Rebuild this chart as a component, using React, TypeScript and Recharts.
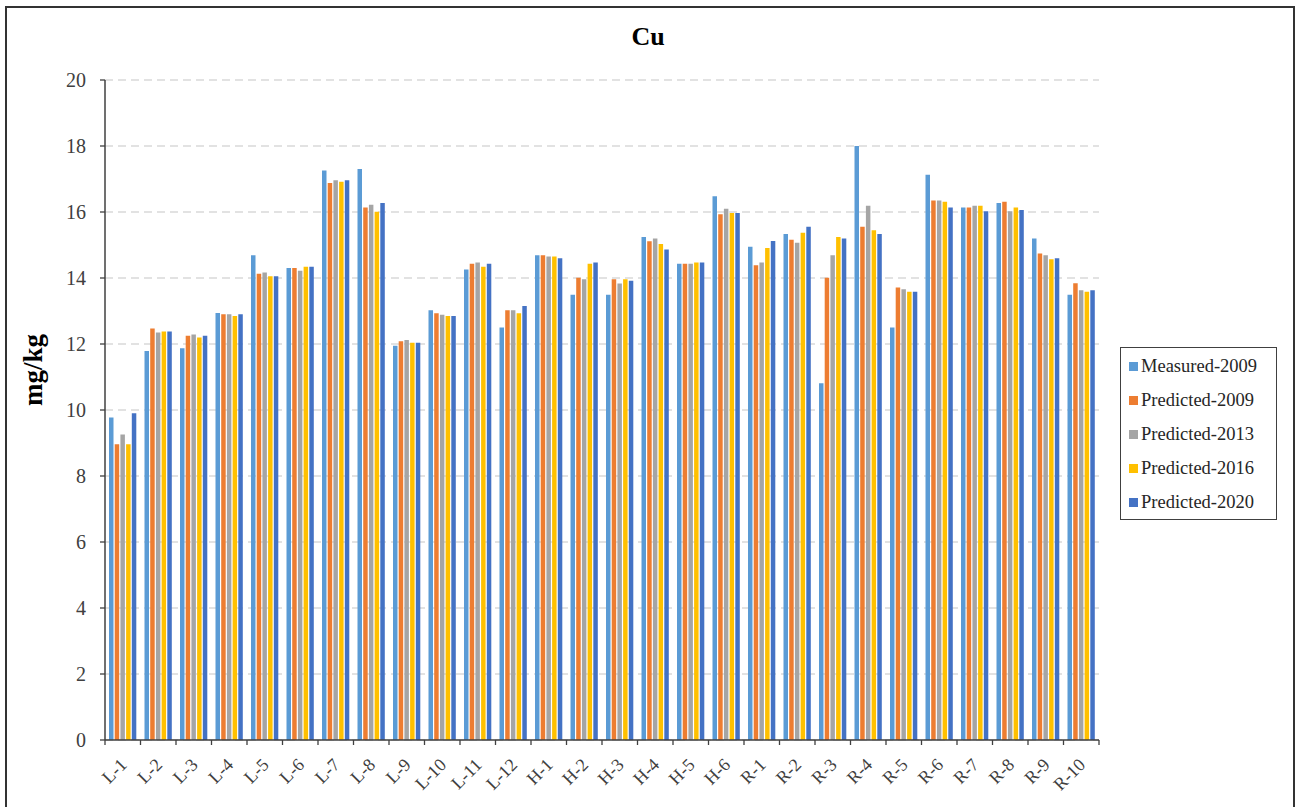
import React from 'react';
import { BarChart, Bar, XAxis, YAxis, CartesianGrid } from 'recharts';

const categories = ['L-1','L-2','L-3','L-4','L-5','L-6','L-7','L-8','L-9','L-10','L-11','L-12','H-1','H-2','H-3','H-4','H-5','H-6','R-1','R-2','R-3','R-4','R-5','R-6','R-7','R-8','R-9','R-10'];
const measured2009 = [9.77,11.79,11.87,12.94,14.69,14.3,17.26,17.3,11.95,13.02,14.26,12.5,14.69,13.49,13.49,15.24,14.43,16.48,14.95,15.33,10.81,18.0,12.5,17.13,16.14,16.27,15.2,13.49];
const predicted2009 = [8.96,12.47,12.25,12.9,14.13,14.3,16.88,16.14,12.08,12.93,14.43,13.02,14.69,14.01,13.96,15.11,14.43,15.93,14.39,15.16,14.01,15.55,13.71,16.35,16.14,16.31,14.74,13.84];
const predicted2013 = [9.26,12.35,12.29,12.9,14.17,14.22,16.96,16.22,12.12,12.89,14.47,13.02,14.65,13.96,13.83,15.2,14.43,16.1,14.47,15.07,14.69,16.19,13.66,16.35,16.19,16.02,14.69,13.63];
const predicted2016 = [8.96,12.38,12.2,12.85,14.05,14.34,16.92,16.01,12.04,12.85,14.34,12.93,14.65,14.43,13.96,15.03,14.47,15.97,14.91,15.37,15.24,15.45,13.58,16.31,16.19,16.14,14.57,13.58];
const predicted2020 = [9.9,12.38,12.25,12.9,14.05,14.34,16.96,16.27,12.04,12.85,14.43,13.15,14.6,14.47,13.92,14.86,14.47,15.97,15.12,15.55,15.2,15.33,13.58,16.14,16.02,16.06,14.6,13.63];
const yTicks = [0,2,4,6,8,10,12,14,16,18,20];

const seriesNames = ['Measured-2009','Predicted-2009','Predicted-2013','Predicted-2016','Predicted-2020'];
const seriesKeys = ['m2009','p2009','p2013','p2016','p2020'];
const seriesColors = ['#5B9BD5','#ED7D31','#A5A5A5','#FFC000','#4472C4'];

const data = categories.map((c, i) => ({
  name: c,
  m2009: measured2009[i],
  p2009: predicted2009[i],
  p2013: predicted2013[i],
  p2016: predicted2016[i],
  p2020: predicted2020[i],
}));

const W = 1296;
const H = 807;
const X_AXIS_H = 67;
const M = { top: 80, right: 197, bottom: 0, left: 0 };
const Y_AXIS_W = 105;
const PLOT_W = W - M.right - Y_AXIS_W - M.left;
const HALF_BAND = PLOT_W / categories.length / 2;
const AXIS_Y = H - M.bottom - X_AXIS_H;
const FONT = '"Liberation Serif", "Times New Roman", serif';

const XTick = (props: any) => {
  const { x, payload, index } = props;
  const isLast = index === categories.length - 1;
  return (
    <g>
      <line x1={x - HALF_BAND} x2={x - HALF_BAND} y1={AXIS_Y} y2={AXIS_Y + 5} stroke="#404040" strokeWidth={1.3} />
      {isLast && (
        <line x1={x + HALF_BAND} x2={x + HALF_BAND} y1={AXIS_Y} y2={AXIS_Y + 5} stroke="#404040" strokeWidth={1.3} />
      )}
      <text
        x={0}
        y={0}
        transform={`translate(${x + 5},${AXIS_Y + 26}) rotate(-45)`}
        textAnchor="end"
        fontFamily={FONT}
        fontSize={18}
        fill="#404040"
      >
        {payload.value}
      </text>
    </g>
  );
};

const LegendBox = () => (
  <div
    style={{
      position: 'absolute',
      left: 1120,
      top: 347,
      border: '1.5px solid #404040',
      width: 157,
      height: 173,
      padding: '1px 0 0 8px',
      boxSizing: 'border-box',
      background: '#fff',
      fontFamily: FONT,
    }}
  >
    {seriesNames.map((n, i) => (
      <div key={n} style={{ display: 'flex', alignItems: 'center', height: 34.2 }}>
        <span style={{ display: 'inline-block', width: 9, height: 9, background: seriesColors[i], marginRight: 3, flexShrink: 0 }} />
        <span style={{ fontSize: 18.5, color: '#262626', whiteSpace: 'nowrap' }}>{n}</span>
      </div>
    ))}
  </div>
);

export default function App() {
  return (
    <div style={{ position: 'absolute', left: 0, top: 0, width: W, height: H, background: '#fff', overflow: 'hidden' }}>
      <BarChart
        width={W}
        height={H}
        data={data}
        margin={M}
        barSize={4.5}
        barGap={1.2}
      >
        <CartesianGrid vertical={false} stroke="#D9D9D9" strokeDasharray="8 5" strokeWidth={1.3} />
        <XAxis
          dataKey="name"
          interval={0}
          height={X_AXIS_H}
          tick={<XTick />}
          tickLine={false}
          axisLine={{ stroke: '#404040', strokeWidth: 1.5 }}
        />
        <YAxis
          width={Y_AXIS_W}
          domain={[0, 20]}
          ticks={yTicks}
          interval={0}
          tickSize={5}
          tickMargin={14}
          tickLine={{ stroke: '#404040', strokeWidth: 1.3 }}
          axisLine={{ stroke: '#404040', strokeWidth: 1.5 }}
          tick={{ fontFamily: FONT, fontSize: 20, fill: '#404040' }}
        />
        {seriesKeys.map((k, i) => (
          <Bar
            key={k}
            dataKey={k}
            name={seriesNames[i]}
            fill={seriesColors[i]}
            isAnimationActive={false}
          />
        ))}
      </BarChart>
      <LegendBox />
      <div
        style={{
          position: 'absolute',
          left: 0,
          width: 1296,
          top: 22,
          textAlign: 'center',
          fontFamily: FONT,
          fontWeight: 'bold',
          fontSize: 26,
          color: '#000',
          paddingRight: 2,
          lineHeight: '30px',
        }}
      >
        Cu
      </div>
      <div
        style={{
          position: 'absolute',
          left: 33,
          top: 370,
          transform: 'translate(-50%, -50%) rotate(-90deg)',
          fontFamily: FONT,
          fontWeight: 'bold',
          fontSize: 27,
          color: '#000',
          whiteSpace: 'nowrap',
        }}
      >
        mg/kg
      </div>
      <div
        style={{
          position: 'absolute',
          left: 5,
          top: 6,
          width: 1286,
          height: 820,
          border: '2px solid #333',
          pointerEvents: 'none',
        }}
      />
    </div>
  );
}
